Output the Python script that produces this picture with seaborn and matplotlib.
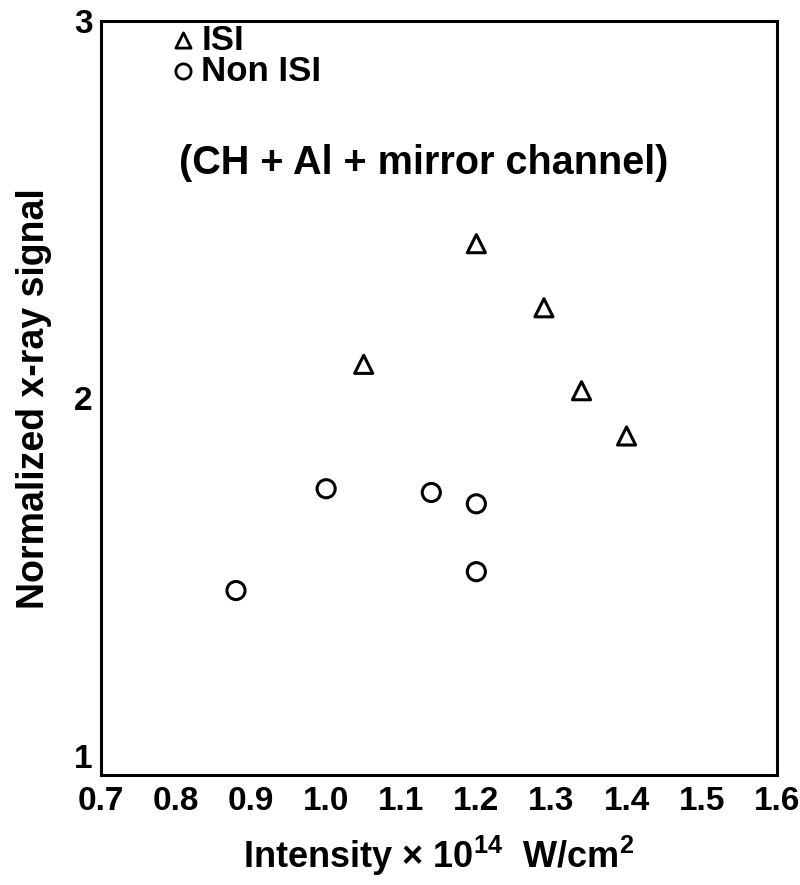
import pandas as pd
import matplotlib.pyplot as plt
import seaborn as sns

# Dados
isi_intensity = [1.05, 1.20, 1.29, 1.34, 1.40]
isi_signal = [2.09, 2.41, 2.24, 2.02, 1.90]
non_isi_intensity = [0.88, 1.00, 1.14, 1.20, 1.20]
non_isi_signal = [1.49, 1.76, 1.75, 1.72, 1.54]
x_ticks = [0.7, 0.8, 0.9, 1.0, 1.1, 1.2, 1.3, 1.4, 1.5, 1.6]
y_ticks = [1, 2, 3]

sns.set_style("white")
plt.rcParams["font.family"] = ["Liberation Sans", "DejaVu Sans"]
plt.rcParams["font.weight"] = "bold"
plt.rcParams["text.color"] = "black"
plt.rcParams["axes.labelcolor"] = "black"
plt.rcParams["xtick.color"] = "black"
plt.rcParams["ytick.color"] = "black"
plt.rcParams["mathtext.default"] = "regular"

df = pd.DataFrame({
    "Intensity": isi_intensity + non_isi_intensity,
    "Signal": isi_signal + non_isi_signal,
    "Type": ["ISI"] * len(isi_intensity) + ["Non ISI"] * len(non_isi_intensity),
})

fig = plt.figure(figsize=(8, 8.85), dpi=100)
ax = fig.add_axes([0.126, 0.124, 0.845, 0.852])

sns.scatterplot(
    data=df, x="Intensity", y="Signal", style="Type",
    markers={"ISI": "^", "Non ISI": "o"},
    s=170, facecolor="white", edgecolor="black", linewidth=2.2,
    ax=ax, legend=False,
)

ax.set_xlim(0.7, 1.6)
ax.set_ylim(1, 3)
ax.set_xticks(x_ticks)
ax.set_xticklabels([f"{t:.1f}" for t in x_ticks], fontsize=24, fontweight="bold")
ax.set_yticks(y_ticks)
ax.set_yticklabels([str(t) for t in y_ticks], fontsize=24, fontweight="bold")
ax.get_yticklabels()[0].set_va("bottom")
ax.tick_params(length=0, pad=6)
ax.tick_params(axis="x", pad=8)

for sp in ax.spines.values():
    sp.set_visible(True)
    sp.set_color("black")
    sp.set_linewidth(2.2)

ax.set_xlabel(r"Intensity $\times$ 10$^{14}$  W/cm$^{2}$", fontsize=26,
              fontweight="bold", labelpad=12)
ax.set_ylabel("Normalized x-ray signal", fontsize=27, fontweight="bold", labelpad=16)

# legenda manual
ax.scatter([0.809], [2.95], marker="^", s=120, facecolor="white",
           edgecolor="black", linewidth=2)
ax.text(0.834, 2.95, "ISI", fontsize=25, fontweight="bold", va="center")
ax.scatter([0.809], [2.867], marker="o", s=120, facecolor="white",
           edgecolor="black", linewidth=2)
ax.text(0.834, 2.867, "Non ISI", fontsize=25, fontweight="bold", va="center")

ax.text(1.13, 2.625, "(CH + Al + mirror channel)", fontsize=28.5,
        fontweight="bold", ha="center", va="center")

plt.savefig("out.png", dpi=100)
plt.close()
